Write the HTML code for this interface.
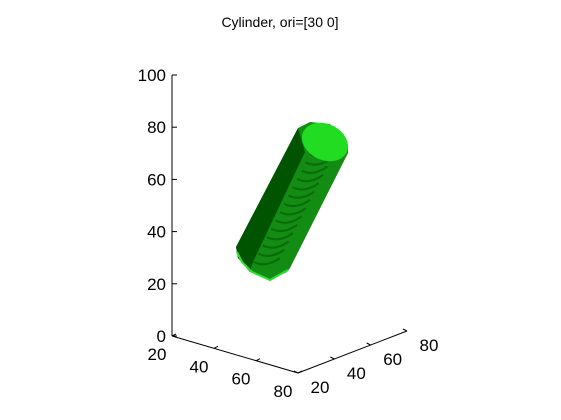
<!DOCTYPE html>
<html><head><meta charset="utf-8"><style>
body{margin:0;background:#fff;}
svg{display:block;font-family:"Liberation Sans",sans-serif;}
</style></head><body>
<svg width="561" height="420" viewBox="0 0 561 420">
<text x="280" y="27" font-size="14" text-anchor="middle">Cylinder, ori=[30 0]</text>
<g id="axes" stroke="#000" stroke-width="1" fill="none"></g>
<g id="labels" font-size="17" fill="#000"></g>
<g>
<polygon fill="#128c12" points="298,128 310,122 330,124 348,147 348,153 290,268 287,272 270,280 250,272 238,258 236,247"/>
<polygon fill="#005400" points="298,128 305,152 253,262 250,272 238,258 236,247"/>
<g id="tex"></g>
<ellipse cx="325" cy="142" rx="24" ry="18" transform="rotate(25 325 142)" fill="#22dc22"/>
<path d="M237,252 L242,262 L252,272 L270,280 L288,270" stroke="#2ee02e" stroke-width="2" fill="none"/>
</g>
</svg>
<script>
const zTicks=[0,20,40,60,80,100];
const xTicks=[20,40,60,80];
const yTicks=[20,40,60,80];
const NS="http://www.w3.org/2000/svg";
const ax=document.getElementById('axes'),lb=document.getElementById('labels');
function line(x1,y1,x2,y2,n){const l=document.createElementNS(NS,'line');l.setAttribute('x1',x1);l.setAttribute('y1',y1);l.setAttribute('x2',x2);l.setAttribute('y2',y2);


ax.appendChild(l);}
function text(x,y,s,a,n){const t=document.createElementNS(NS,'text');t.setAttribute('x',x);t.setAttribute('y',y);t.setAttribute('text-anchor',a);t.textContent=s;


lb.appendChild(t);}
// z axis
const zy=v=>336-v/100*261;
line(172,336,172,75,'z-axis');
zTicks.forEach(v=>{line(172,zy(v),177,zy(v),'z-tick');text(166,zy(v)+6,v,'end','z-tick-label');});
// x axis (left floor)
const x0={x:172,y:336},x1={x:298,y:373};
const xp=v=>({x:x0.x+(x1.x-x0.x)*(v-20)/(80-20)*1.0,y:x0.y+(x1.y-x0.y)*(v-20)/60});
line(x0.x,x0.y,x1.x,x1.y,'x-axis');
xTicks.forEach(v=>{const p=xp(v);line(p.x,p.y,p.x+4,p.y-2,'x-tick');text(p.x-15,p.y+24,v,'middle','x-tick-label');});
// y axis (right floor)
const y0={x:298,y:373},y1={x:407,y:331};
const yp=v=>({x:y0.x+(y1.x-y0.x)*(v-20)/60,y:y0.y+(y1.y-y0.y)*(v-20)/60});
line(y0.x,y0.y,y1.x,y1.y,'y-axis');
yTicks.forEach(v=>{const p=yp(v);line(p.x,p.y,p.x-4,p.y-2,'y-tick');text(p.x+22,p.y+20,v,'middle','y-tick-label');});
// texture
const tex=document.getElementById('tex');
for(let i=0;i<14;i++){const t=i/13;const cx=300+(262-300)*t+ -0? 0:0;
const sx=318+(262-318)*t, sy=160+(268-160)*t;
const p=document.createElementNS(NS,'path');
p.setAttribute('d',`M${sx-8},${sy-6} q12,6 26,-4`);p.setAttribute('stroke','#0a6a0a');p.setAttribute('stroke-width','2');p.setAttribute('fill','none');


tex.appendChild(p);}
</script>
</body></html>
